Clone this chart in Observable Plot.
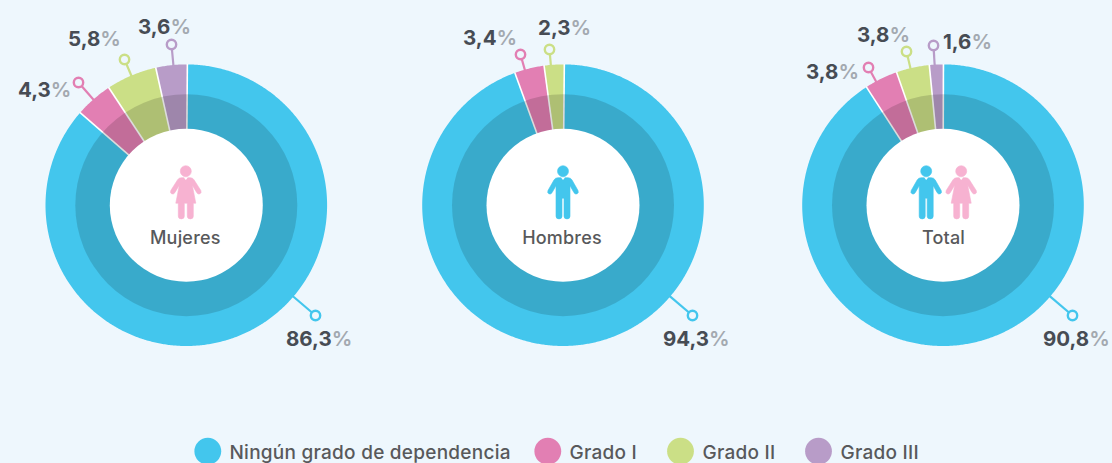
<!DOCTYPE html>
<html lang="es">
<head>
<meta charset="utf-8">
<script src="https://cdn.jsdelivr.net/npm/d3@7"></script>
<script src="https://cdn.jsdelivr.net/npm/@observablehq/plot@0.6"></script>
<style>
html,body{margin:0;padding:0;background:#EEF7FD;overflow:hidden}
svg{display:block;background:#EEF7FD}
text{font-family:Inter,"Liberation Sans",sans-serif}
.legend-label text{letter-spacing:.25px}
.center-label text{letter-spacing:.2px}
</style>
</head>
<body>
<div id="chart"></div>
<script>
// Data
const categories = ["Ningún grado de dependencia", "Grado I", "Grado II", "Grado III"];
const colors = ["#43C6ED", "#E27FB3", "#CBDF86", "#B89CC8"];
const groups = ["Mujeres", "Hombres", "Total"];
const mujeres = [86.3, 4.3, 5.8, 3.6];
const hombres = [94.3, 3.4, 2.3, 0];
const total = [90.8, 3.8, 3.8, 1.6];
const series = [mujeres, hombres, total];

// Layout
const centersX = [185.8, 562.5, 942.5];
const startPct = [0.12, 0.15, 0.05];
const centerY = 204.7;
const rOuter = 140.8, rMid = 111, rHole = 76.5;
const markers = [
  [[315, 315], [78, 82], [124, 59], [171, 44]],
  [[692, 315], [520, 54], [549, 49], null],
  [[1072, 315], [868, 67], [906, 51], [933, 45]]
];
const labelPos = [
  [[285.5, 345], [17.5, 96], [67.5, 45], [137.5, 33]],
  [[662.5, 345], [462.5, 44], [537.5, 34], null],
  [[1042.5, 345], [805.5, 78], [856.5, 41], [942.5, 48]]
];
const legendDotX = [207.3, 547.3, 680, 818];
const legendTextX = [229, 569, 702, 840];
const legendY = 450.7;
const centerLabelShift = [-1, -1, 0.5];

// Derived tables
const rad = p => p * 3.6 * Math.PI / 180;
const px = (g, r, a) => centersX[g] + r * Math.sin(a);
const py = (r, a) => centerY - r * Math.cos(a);
const wedgePts = [], seps = [], leaders = [], rings = [], labels = [];
series.forEach((vals, g) => {
  let acc = startPct[g];
  vals.forEach((v, c) => {
    if (v <= 0) return;
    const a0 = rad(acc), a1 = rad(acc + v);
    const id = g + "-" + c;
    wedgePts.push({id, cat: categories[c], x: centersX[g], y: centerY});
    const n = Math.max(2, Math.ceil(v * 3.6 * 2));
    for (let i = 0; i <= n; i++) {
      const a = a0 + (a1 - a0) * i / n;
      wedgePts.push({id, cat: categories[c], x: px(g, rOuter, a), y: py(rOuter, a)});
    }
    seps.push({x1: centersX[g], y1: centerY, x2: px(g, rOuter + .5, a0), y2: py(rOuter + .5, a0)});
    const m = markers[g][c], dx = m[0] - centersX[g], dy = m[1] - centerY, d = Math.hypot(dx, dy);
    leaders.push({x1: centersX[g] + dx / d * (rOuter - 1), y1: centerY + dy / d * (rOuter - 1), x2: m[0], y2: m[1], cat: categories[c]});
    rings.push({x: m[0], y: m[1], cat: categories[c]});
    labels.push({x: labelPos[g][c][0], y: labelPos[g][c][1], text: v.toFixed(1).replace(".", ",") + "%"});
    acc += v;
  });
});
const centers = groups.map((name, i) => ({name, x: centersX[i], y: centerY, tx: centersX[i] + centerLabelShift[i]}));
const legend = categories.map((cat, i) => ({cat, dx: legendDotX[i], tx: legendTextX[i], y: legendY}));

// Icons as custom symbols (unit radius = 1px)
const manSymbol = {draw(c) {
  c.moveTo(-5, 6.5); c.lineTo(5, 6.5);
  c.quadraticCurveTo(7.6, 6.5, 8.9, 8.6);
  c.lineTo(15, 19.3); c.quadraticCurveTo(16, 21.6, 14.2, 22.6); c.quadraticCurveTo(12.2, 23.4, 11, 21.5);
  c.lineTo(7, 14.5); c.lineTo(7, 45);
  c.quadraticCurveTo(7, 47.7, 4, 47.7); c.quadraticCurveTo(1, 47.7, 1, 45);
  c.lineTo(1, 27); c.lineTo(-1, 27); c.lineTo(-1, 45);
  c.quadraticCurveTo(-1, 47.7, -4, 47.7); c.quadraticCurveTo(-7, 47.7, -7, 45);
  c.lineTo(-7, 14.5); c.lineTo(-11, 21.5);
  c.quadraticCurveTo(-12.2, 23.4, -14.2, 22.6); c.quadraticCurveTo(-16, 21.6, -15, 19.3);
  c.lineTo(-8.9, 8.6); c.quadraticCurveTo(-7.6, 6.5, -5, 6.5); c.closePath();
  c.moveTo(5.5, 0); c.arc(0, 0, 5.5, 0, 2 * Math.PI); c.closePath();
}};
const womanSymbol = {draw(c) {
  c.moveTo(-4.5, 6.5); c.lineTo(4.5, 6.5);
  c.quadraticCurveTo(7, 6.5, 8.2, 8.6);
  c.lineTo(15, 19.3); c.quadraticCurveTo(16, 21.6, 14.2, 22.6); c.quadraticCurveTo(12.2, 23.4, 11, 21.5);
  c.lineTo(6.5, 14); c.lineTo(10, 32); c.lineTo(7.5, 32); c.lineTo(7.5, 45);
  c.quadraticCurveTo(7.5, 47.7, 4.5, 47.7); c.quadraticCurveTo(1.5, 47.7, 1.5, 45);
  c.lineTo(1.5, 32); c.lineTo(-1.5, 32); c.lineTo(-1.5, 45);
  c.quadraticCurveTo(-1.5, 47.7, -4.5, 47.7); c.quadraticCurveTo(-7.5, 47.7, -7.5, 45);
  c.lineTo(-7.5, 32); c.lineTo(-10, 32); c.lineTo(-6.5, 14); c.lineTo(-11, 21.5);
  c.quadraticCurveTo(-12.2, 23.4, -14.2, 22.6); c.quadraticCurveTo(-16, 21.6, -15, 19.3);
  c.lineTo(-8.2, 8.6); c.quadraticCurveTo(-7, 6.5, -4.5, 6.5); c.closePath();
  c.moveTo(5.5, 0); c.arc(0, 0, 5.5, 0, 2 * Math.PI); c.closePath();
}};
const collarSymbol = {draw(c) { c.moveTo(-2.2, 6); c.lineTo(2.2, 6); c.lineTo(0, 8.8); c.closePath(); }};
const iconY = 170.7;
const men = [{x: 562.5, y: iconY}, {x: 925.7, y: iconY}];
const women = [{x: 185.3, y: iconY}, {x: 960.7, y: iconY}];

// Colour the "%" sign of each label in grey, keeping it in the same text element
function greyPercent(index, scales, values, dimensions, context, next) {
  const g = next(index, scales, values, dimensions, context);
  g.querySelectorAll("text").forEach(t => {
    const s = t.textContent;
    t.textContent = s.slice(0, -1);
    const span = document.createElementNS("http://www.w3.org/2000/svg", "tspan");
    span.textContent = "%";
    span.setAttribute("fill", "#A3A9B0");
    span.setAttribute("font-weight", "600");
    t.appendChild(span);
  });
  return g;
}

const chart = Plot.plot({
  width: 1112, height: 463, margin: 0,
  style: {background: "#EEF7FD"},
  x: {domain: [0, 1112], range: [0, 1112], axis: null},
  y: {domain: [0, 463], range: [0, 463], axis: null},
  color: {domain: categories, range: colors},
  marks: [
    Plot.line(wedgePts, {x: "x", y: "y", z: "id", fill: "cat", stroke: null, curve: "linear-closed"}),
    Plot.link(seps, {x1: "x1", y1: "y1", x2: "x2", y2: "y2", stroke: "white", strokeWidth: 1.6}),
    Plot.dot(centers, {x: "x", y: "y", r: rMid, fill: "black", fillOpacity: 0.14}),
    Plot.dot(centers, {x: "x", y: "y", r: rHole, fill: "white"}),
    Plot.link(leaders, {x1: "x1", y1: "y1", x2: "x2", y2: "y2", stroke: "cat", strokeWidth: 2.2}),
    Plot.dot(rings, {x: "x", y: "y", r: 4.7, stroke: "cat", strokeWidth: 2.4, fill: "#EEF7FD"}),
    Plot.text(labels, {x: "x", y: "y", text: "text", textAnchor: "start", lineAnchor: "bottom", fontSize: 20.5, fontWeight: 700, fill: "#474C54", render: greyPercent}),
    Plot.dot(men, {x: "x", y: "y", r: 1, symbol: manSymbol, fill: "#43C6ED", stroke: "#43C6ED", strokeWidth: 0.6}),
    Plot.dot(women, {x: "x", y: "y", r: 1, symbol: womanSymbol, fill: "#F7B2D1", stroke: "#F7B2D1", strokeWidth: 0.6}),
    Plot.dot([...men, ...women], {x: "x", y: "y", r: 1, symbol: collarSymbol, fill: "white"}),
    Plot.text(centers, {x: "tx", y: () => 243, text: "name", textAnchor: "middle", lineAnchor: "bottom", fontSize: 18, fontWeight: 500, fill: "#58595B", className: "center-label"}),
    Plot.dot(legend, {x: "dx", y: "y", r: 13.4, fill: "cat"}),
    Plot.text(legend, {x: "tx", y: () => 458, text: "cat", textAnchor: "start", lineAnchor: "bottom", fontSize: 19, fontWeight: 500, fill: "#58595B", className: "legend-label"})
  ]
});
document.getElementById("chart").appendChild(chart);
</script>
</body>
</html>
